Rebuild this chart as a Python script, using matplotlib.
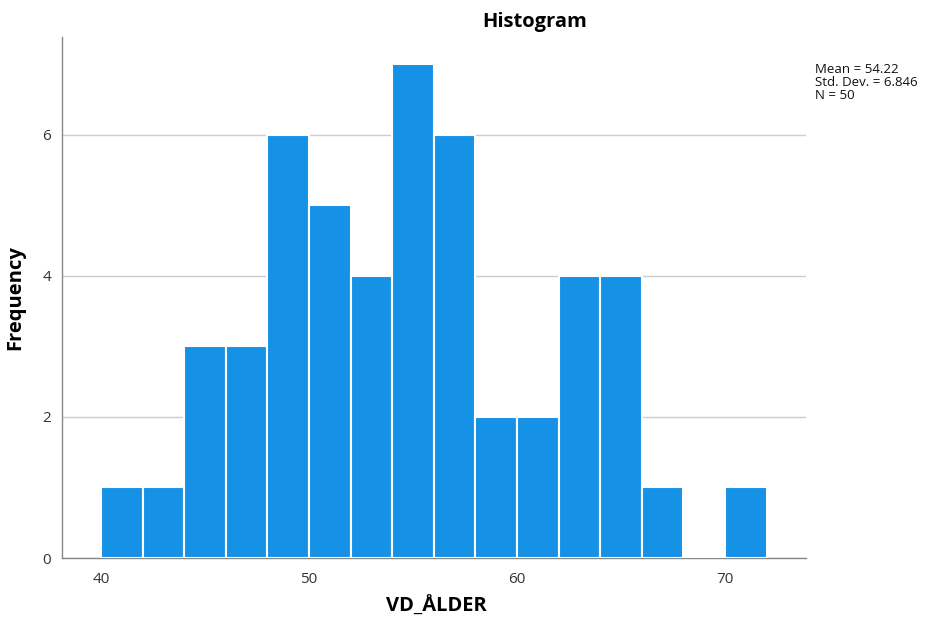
import matplotlib
matplotlib.use("Agg")
import matplotlib.pyplot as plt
import numpy as np

bin_edges = [40, 42, 44, 46, 48, 50, 52, 54, 56, 58, 60, 62, 64, 66, 68, 70, 72]
counts = [1, 1, 3, 3, 6, 5, 4, 7, 6, 2, 2, 4, 4, 1, 0, 1]
xticks = [40, 50, 60, 70]
yticks = [0, 2, 4, 6]
stats_text = "Mean = 54.22\nStd. Dev. = 6.846\nN = 50"

plt.rcParams['font.family'] = ['Open Sans', 'DejaVu Sans']

fig = plt.figure(figsize=(9.34, 6.19), dpi=100)
ax = fig.add_axes([0.0664, 0.0985, 0.7966, 0.8415])

lefts = np.array(bin_edges[:-1])
widths = np.diff(bin_edges)
ax.bar(lefts, counts, width=widths, align='edge', color='#1591E6',
       edgecolor='white', linewidth=1.5, zorder=3)

ax.set_xlim(38.125, 73.9)
ax.set_ylim(0, 7.38)
ax.set_xticks(xticks)
ax.set_yticks(yticks)
ax.tick_params(axis='both', length=0, labelsize=11, colors='#333333')
ax.tick_params(axis='x', pad=10)
ax.tick_params(axis='y', pad=8)
ax.yaxis.grid(True, color='#cccccc', linewidth=1, zorder=0)
ax.set_axisbelow(True)
for s in ['top', 'right']:
    ax.spines[s].set_visible(False)
for s in ['left', 'bottom']:
    ax.spines[s].set_color('#888888')
    ax.spines[s].set_linewidth(1)

fig.text(535/934, 1 - 22/619, "Histogram", fontsize=14.5, fontweight='bold',
         ha='center', va='center')
fig.text(436/934, 1 - 612/619, "VD_ÅLDER", fontsize=14.5, fontweight='bold',
         ha='center', va='baseline')
ax.set_ylabel("Frequency", fontsize=14.5, fontweight='bold', labelpad=12)

fig.text(815/934, 1 - 63/619, stats_text, fontsize=9.5, va='top', ha='left',
         linespacing=1.0, color='#111111')

fig.savefig("out.png", dpi=100)
